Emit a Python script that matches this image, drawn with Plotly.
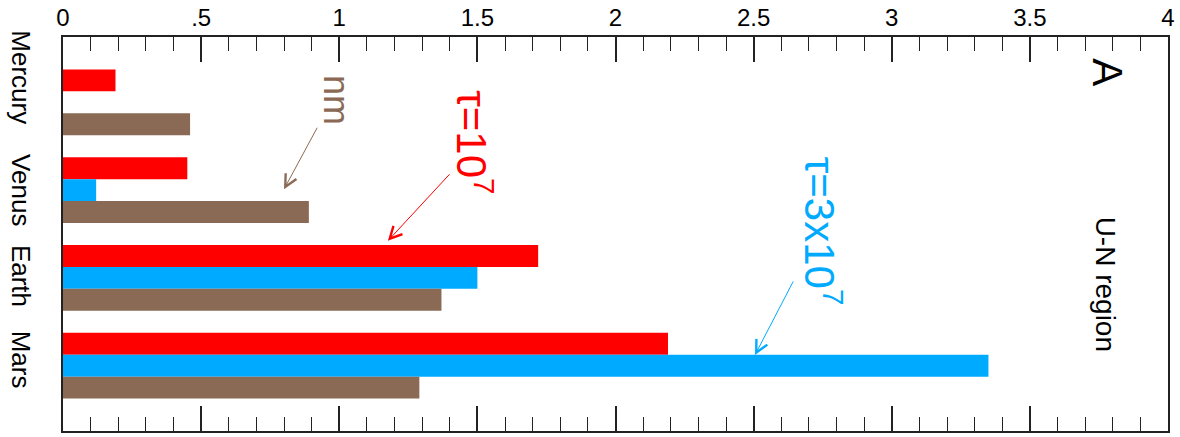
import plotly.graph_objects as go

# Planets (top to bottom) and the three bar series per planet
planets = ["Mercury", "Venus", "Earth", "Mars"]
tau_1e7 = [0.19, 0.45, 1.72, 2.19]      # tau = 10^7 (red)
tau_3e7 = [0.0, 0.12, 1.50, 3.35]       # tau = 3x10^7 (blue)
nm_vals = [0.46, 0.89, 1.37, 1.29]      # nm (brown)

tick_vals = [0, 0.5, 1, 1.5, 2, 2.5, 3, 3.5, 4]
tick_text = ["0", ".5", "1", "1.5", "2", "2.5", "3", "3.5", "4"]

RED = "#FF0000"
BLUE = "#00AAFF"
BROWN = "#8B6A55"
FONT = "Liberation Sans, Arial, sans-serif"

ypos = list(range(len(planets)))

fig = go.Figure()
for vals, col, name in [(tau_1e7, RED, "tau=1e7"), (tau_3e7, BLUE, "tau=3e7"), (nm_vals, BROWN, "nm")]:
    fig.add_trace(go.Bar(x=vals, y=ypos, orientation="h", marker=dict(color=col, line=dict(width=0)),
                         name=name, showlegend=False))

annotations = []
# Planet labels, rotated
label_shift = {"Mercury": 25, "Venus": 0, "Earth": 2, "Mars": 6}
for i, p in enumerate(planets):
    annotations.append(dict(text=p, x=-0.038, xref="paper", y=i, yref="y", yshift=label_shift[p],
                            textangle=90, showarrow=False, font=dict(size=26, color="black", family=FONT),
                            xanchor="center", yanchor="middle"))

# Series labels
annotations += [
    dict(text="nm", x=0.99, y=-0.02, xref="x", yref="y", textangle=90, showarrow=False,
         font=dict(size=36, color=BROWN, family=FONT)),
    dict(text="\u03c4=10<sup>7</sup>", x=1.49, y=0.45, xref="x", yref="y", textangle=90, showarrow=False,
         font=dict(size=42, color=RED, family=FONT)),
    dict(text="\u03c4=3x10<sup>7</sup>", x=2.75, y=1.47, xref="x", yref="y", textangle=90, showarrow=False,
         font=dict(size=42, color=BLUE, family=FONT)),
    dict(text="A", x=3.78, y=-0.34, xref="x", yref="y", textangle=90, showarrow=False,
         font=dict(size=42, color="black", family=FONT)),
    dict(text="U-N region", x=3.777, y=2.07, xref="x", yref="y", textangle=90, showarrow=False,
         font=dict(size=28, color="black", family=FONT)),
]

# Pointer arrows
for hx, hy, ax, ay, col in [(0.80, 0.99, 34, -63, BROWN), (1.176, 1.578, 63, -68, RED), (2.505, 2.878, 39, -75, BLUE)]:
    annotations.append(dict(x=hx, y=hy, xref="x", yref="y", ax=ax, ay=ay, text="", showarrow=True,
                            arrowhead=5, arrowsize=2.4, arrowwidth=1, arrowcolor=col, standoff=0))

fig.update_layout(
    width=1180, height=437,
    margin=dict(l=62.5, r=12, t=29, b=4),
    paper_bgcolor="white", plot_bgcolor="white",
    barmode="group", bargap=0.25, bargroupgap=0,
    annotations=annotations,
    xaxis=dict(side="top", range=[0, 4], tickvals=tick_vals, ticktext=tick_text,
               ticks="inside", ticklen=25, tickwidth=1.5, tickcolor="#222",
               minor=dict(dtick=0.1, ticks="inside", ticklen=14, tickwidth=1.3, tickcolor="#222"),
               showline=True, linecolor="#222", linewidth=1.5, mirror="ticks",
               showgrid=False, zeroline=False,
               tickfont=dict(size=24, color="black", family=FONT)),
    yaxis=dict(range=[3.744, -0.744], showticklabels=False, ticks="",
               showline=True, linecolor="#222", linewidth=2, mirror=True,
               showgrid=False, zeroline=False),
)

fig.write_html("out.html")
